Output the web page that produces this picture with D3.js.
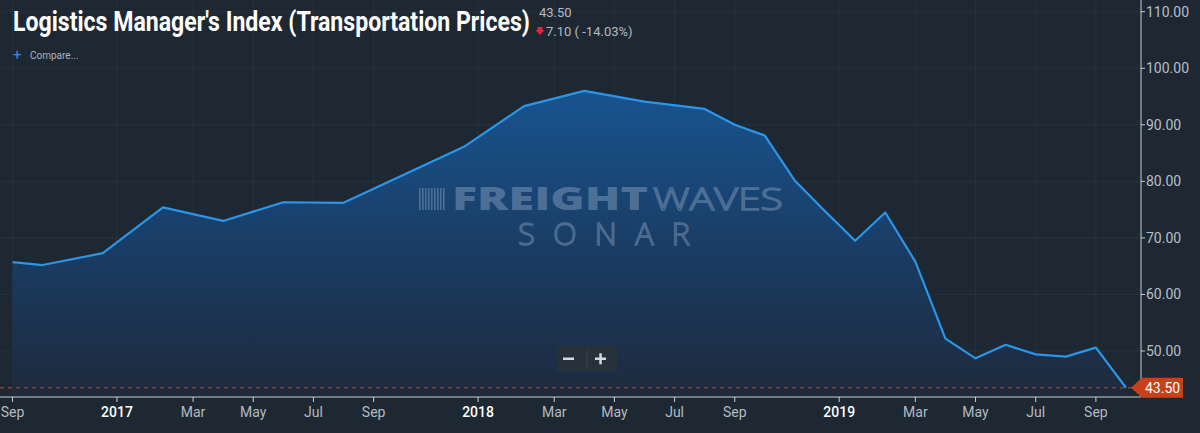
<!DOCTYPE html>
<html>
<head>
<meta charset="utf-8">
<script src="https://cdn.jsdelivr.net/npm/d3@7"></script>
<style>
  html, body { margin:0; padding:0; background:#1e2832; }
  svg { display:block; font-family: Roboto, "Noto Sans", sans-serif; }
</style>
</head>
<body>
<div id="chart"></div>
<script>
//DATA
const months = ["2016-09","2016-10","2016-12","2017-02","2017-04","2017-06","2017-08","2017-12",
  "2018-02","2018-04","2018-06","2018-08","2018-09","2018-10","2018-11","2018-12",
  "2019-01","2019-02","2019-03","2019-04","2019-05","2019-06","2019-07","2019-08","2019-09","2019-10"];
const values = [65.7,65.2,67.3,75.4,73.0,76.3,76.2,86.1,
  93.3,96.0,94.1,92.8,90.0,88.1,80.1,74.7,
  69.5,74.5,65.8,52.2,48.7,51.1,49.4,49.0,50.6,43.5];

const monthTicks = ["2016-09","2017-03","2017-05","2017-07","2017-09","2018-03","2018-05","2018-07","2018-09",
  "2019-03","2019-05","2019-07","2019-09"];
const monthTickLabels = ["Sep","Mar","May","Jul","Sep","Mar","May","Jul","Sep","Mar","May","Jul","Sep"];
const yearTicks = ["2017-01","2018-01","2019-01"];
const yearTickLabels = ["2017","2018","2019"];
const yTicks = [50,60,70,80,90,100,110];

const title = "Logistics Manager's Index (Transportation Prices)";

//LAYOUT AND SIZING
const W = 1200, H = 433;
const plotRight = 1141, plotBottom = 397;
const yearShift = -0.53; //year labels sit between Dec and Jan points

//month string -> index counted from Sep 2016
const monthIndex = s => { const [y, m] = s.split("-").map(Number); return (y - 2016) * 12 + (m - 9); };
const data = months.map((m, i) => ({ i: monthIndex(m), v: values[i] }));

const svg = d3.select("#chart").append("svg").attr("width", W).attr("height", H);

svg.append("rect").attr("width", W).attr("height", H).attr("fill", "#1e2832");

//Scales
const x = d3.scaleLinear().domain([0, 37]).range([12.5, 1126]);
const y = d3.scaleLinear().domain([50, 110]).range([351, 11.7]);

//Gradient for area
const defs = svg.append("defs");
const grad = defs.append("linearGradient").attr("id", "areaGrad")
  .attr("gradientUnits", "userSpaceOnUse").attr("x1", 0).attr("x2", 0)
  .attr("y1", y(96)).attr("y2", plotBottom);
grad.append("stop").attr("offset", "0%").attr("stop-color", "#18548f");
grad.append("stop").attr("offset", "55%").attr("stop-color", "#1a3b62");
grad.append("stop").attr("offset", "100%").attr("stop-color", "#1d2a3c");

//Grid
const grid = svg.append("g");
grid.selectAll(".hg").data(yTicks).join("line")
  .attr("x1", 0).attr("x2", plotRight)
  .attr("y1", d => y(d)).attr("y2", d => y(d))
  .attr("stroke", "#ffffff").attr("stroke-opacity", 0.045);
grid.selectAll(".vg").data(monthTicks.map(monthIndex).concat(yearTicks.map(d => monthIndex(d) + yearShift))).join("line")
  .attr("x1", d => x(d)).attr("x2", d => x(d))
  .attr("y1", 0).attr("y2", plotBottom)
  .attr("stroke", "#ffffff").attr("stroke-opacity", 0.045);

//Area + line
const area = d3.area().x(d => x(d.i)).y0(plotBottom).y1(d => y(d.v));
const line = d3.line().x(d => x(d.i)).y(d => y(d.v));

svg.append("path").datum(data).attr("d", area).attr("fill", "url(#areaGrad)");

//Watermark
const wmCol = "#a3b9d2";
const wm = svg.append("g").attr("fill", wmCol).attr("fill-opacity", 0.38);
const bars = [0,3,6,9,12,15,18,21,24];
wm.selectAll("rect").data(bars).join("rect")
  .attr("x", d => 419 + d).attr("y", 188).attr("width", 1.6).attr("height", 22);
wm.append("text").attr("x", 452).attr("y", 210)
  .attr("font-family", "'Open Sans', Roboto, sans-serif").attr("font-weight", 800)
  .attr("font-size", 31).attr("textLength", 196).attr("lengthAdjust", "spacingAndGlyphs")
  .text("FREIGHT");
wm.append("text").attr("x", 653).attr("y", 210)
  .attr("fill", "none").attr("stroke", wmCol).attr("stroke-opacity", 0.38).attr("stroke-width", 1.4)
  .attr("font-family", "'Open Sans', Roboto, sans-serif").attr("font-weight", 300)
  .attr("font-size", 31).attr("textLength", 130).attr("lengthAdjust", "spacingAndGlyphs")
  .text("WAVES");
wm.append("text").attr("x", 518).attr("y", 245)
  .attr("fill", "none").attr("stroke", wmCol).attr("stroke-opacity", 0.38).attr("stroke-width", 1.4)
  .attr("font-family", "'Open Sans', Roboto, sans-serif").attr("font-weight", 300)
  .attr("font-size", 31).attr("textLength", 172).attr("lengthAdjust", "spacing")
  .text("SONAR");

svg.append("path").datum(data).attr("d", line)
  .attr("fill", "none").attr("stroke", "#2b95e8").attr("stroke-width", 2.2)
  .attr("stroke-linejoin", "round");

//Last value dashed line
const last = values[values.length - 1], prev = values[values.length - 2];
svg.append("line").attr("x1", 0).attr("x2", plotRight)
  .attr("y1", y(last)).attr("y2", y(last))
  .attr("stroke", "#8a3c34").attr("stroke-width", 1.3).attr("stroke-dasharray", "4,4");

//Axes
const xAxis = svg.append("g").attr("transform", `translate(0,${plotBottom})`);
xAxis.append("line").attr("x1", 0).attr("x2", plotRight).attr("stroke", "#c9ced3");
const mt = xAxis.selectAll(".mt").data(monthTicks).join("g")
  .attr("transform", d => `translate(${x(monthIndex(d))},0)`);
mt.append("line").attr("y2", 5).attr("stroke", "#c9ced3");
mt.append("text").attr("y", 20).attr("text-anchor", "middle")
  .attr("fill", "#b3bac1").attr("font-size", 14)
  .text((d, i) => monthTickLabels[i]);
const yt = xAxis.selectAll(".yt").data(yearTicks).join("g")
  .attr("transform", d => `translate(${x(monthIndex(d) + yearShift)},0)`);
yt.append("line").attr("y2", 5).attr("stroke", "#c9ced3");
yt.append("text").attr("y", 20).attr("text-anchor", "middle")
  .attr("fill", "#ffffff").attr("font-size", 14).attr("font-weight", 500)
  .text((d, i) => yearTickLabels[i]);

const yAxis = svg.append("g").attr("transform", `translate(${plotRight},0)`);
yAxis.append("line").attr("y1", 0).attr("y2", plotBottom).attr("stroke", "#c9ced3");
const ytk = yAxis.selectAll(".ytk").data(yTicks).join("g")
  .attr("transform", d => `translate(0,${y(d)})`);
ytk.append("line").attr("x2", 4).attr("stroke", "#c9ced3");
ytk.append("text").attr("x", 5).attr("dy", "0.35em")
  .attr("fill", "#b8bfc6").attr("font-size", 14)
  .text(d => d3.format(".2f")(d));

//Last value badge
const by = y(last);
svg.append("path")
  .attr("d", `M1131,${by} L1142,${by - 10} L1183,${by - 10} L1183,${by + 10} L1142,${by + 10} Z`)
  .attr("fill", "#c9401b");
svg.append("text").attr("x", 1145).attr("y", by).attr("dy", "0.35em")
  .attr("fill", "#ffffff").attr("font-size", 14).text(last.toFixed(2));

//Title, squeezed horizontally to the condensed width of the original
const titleText = svg.append("text")
  .attr("fill", "#ffffff").attr("font-weight", 700).attr("font-size", 28)
  .text(title);
const natural = titleText.node().getComputedTextLength();
titleText.attr("transform", `translate(13,31) scale(${517 / natural},1)`);

const chg = last - prev;
svg.append("text").attr("x", 539).attr("y", 17)
  .attr("fill", "#b3bac1").attr("font-size", 13).text(last.toFixed(2));
svg.append("path").attr("d", "M537.5,27 L542.5,27 L542.5,30 L544.5,30 L540,35 L535.5,30 L537.5,30 Z")
  .attr("fill", "#e0253a");
svg.append("text").attr("x", 546).attr("y", 36)
  .attr("fill", "#b3bac1").attr("font-size", 13)
  .text(`${Math.abs(chg).toFixed(2)} ( ${(chg / prev * 100).toFixed(2)}%)`);

//Compare
svg.append("text").attr("x", 13).attr("y", 60)
  .attr("fill", "#2f8ee6").attr("font-size", 15).text("+");
svg.append("text").attr("x", 30).attr("y", 59)
  .attr("fill", "#aab2ba").attr("font-size", 10).text("Compare...");

//Zoom buttons
const zb = svg.append("g");
zb.append("rect").attr("x", 557).attr("y", 346).attr("width", 60).attr("height", 26)
  .attr("rx", 2).attr("fill", "#27313c");
zb.append("line").attr("x1", 587).attr("x2", 587).attr("y1", 350).attr("y2", 368)
  .attr("stroke", "#3a4550");
zb.append("rect").attr("x", 563).attr("y", 357.5).attr("width", 11).attr("height", 2.5).attr("fill", "#d5d9dd");
zb.append("rect").attr("x", 595).attr("y", 357.5).attr("width", 11).attr("height", 2.5).attr("fill", "#d5d9dd");
zb.append("rect").attr("x", 599.3).attr("y", 353.3).attr("width", 2.5).attr("height", 11).attr("fill", "#d5d9dd");
</script>
</body>
</html>
